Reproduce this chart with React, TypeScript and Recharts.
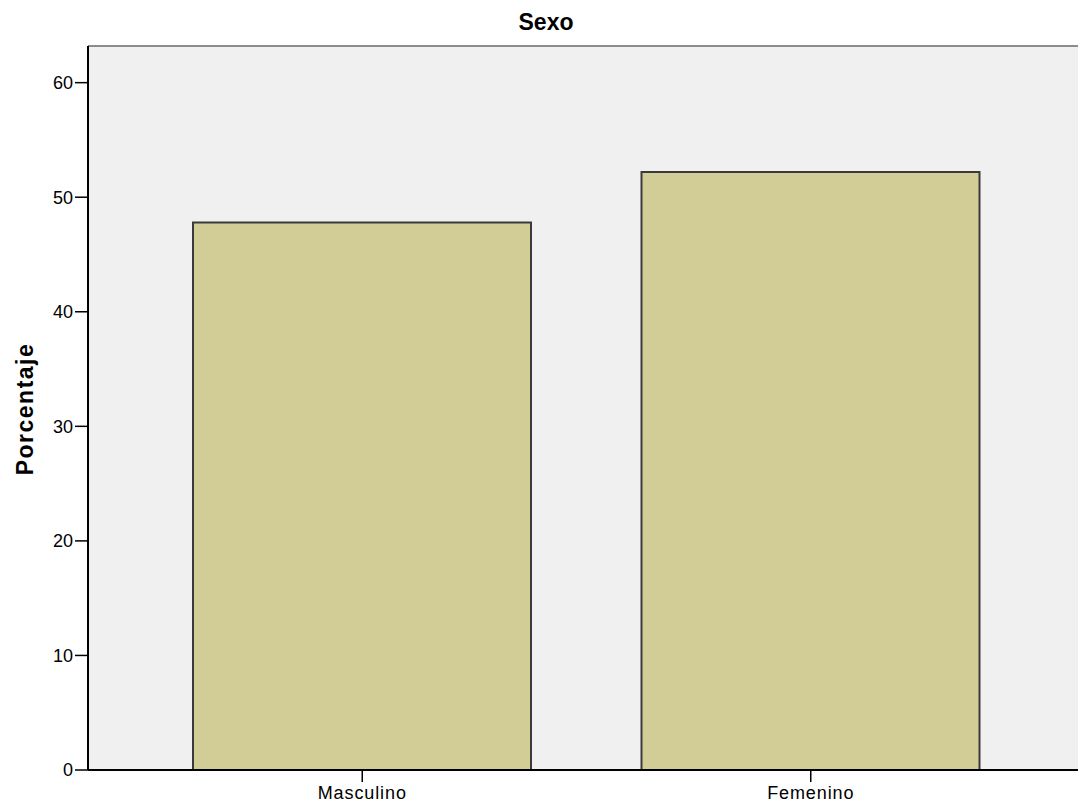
import React from "react";
import { BarChart, Bar, XAxis, YAxis, CartesianGrid, ReferenceLine } from "recharts";

const categories = ["Masculino", "Femenino"];
const percentages = [47.8, 52.2];
const yTicks = [0, 10, 20, 30, 40, 50, 60];
const yMax = 63.2;

const data = categories.map((c, i) => ({ name: c, value: percentages[i] }));

const font = "'Liberation Sans', Arial, sans-serif";

export default function App() {
  return (
    <div style={{ position: "absolute", left: 0, top: 0, width: 1078, height: 805, background: "#fff", fontFamily: font, overflow: "hidden" }}>
      <div style={{ position: "absolute", left: 0, top: 11, width: 1092, textAlign: "center", fontWeight: "bold", fontSize: 23, lineHeight: "23px", color: "#000" }}>
        Sexo
      </div>
      <div
        style={{
          position: "absolute",
          left: 25,
          top: 409,
          transform: "translate(-50%, -50%) rotate(-90deg)",
          fontWeight: "bold",
          fontSize: 23,
          letterSpacing: 1.5,
          lineHeight: "23px",
          color: "#000",
          whiteSpace: "nowrap",
        }}
      >
        Porcentaje
      </div>
      <BarChart
        width={1078}
        height={805}
        data={data}
        margin={{ top: 46, right: 0, bottom: 5, left: 0 }}
        barSize={338}
        style={{ position: "absolute", left: 0, top: 0 }}
      >
        <CartesianGrid horizontal={false} vertical={false} fill="#F0F0F0" />
        <XAxis
          dataKey="name"
          padding={{ left: 50, right: 43 }}
          axisLine={{ stroke: "#000", strokeWidth: 2 }}
          tickLine={{ stroke: "#000", strokeWidth: 1.5 }}
          tickSize={12}
          tickMargin={4}
          tick={{ fill: "#000", fontSize: 18, fontFamily: font, letterSpacing: 0.9 }}
          interval={0}
        />
        <YAxis
          width={88}
          domain={[0, yMax]}
          ticks={yTicks}
          axisLine={{ stroke: "#000", strokeWidth: 2 }}
          tickLine={{ stroke: "#000", strokeWidth: 1.5 }}
          tickSize={13}
          tickMargin={2}
          tick={{ fill: "#000", fontSize: 18, fontFamily: font }}
        />
        <ReferenceLine y={yMax} stroke="#8c8c8c" strokeWidth={2} ifOverflow="extendDomain" />
        <Bar dataKey="value" fill="#D2CD97" stroke="#3a3a3a" strokeWidth={2} isAnimationActive={false} />
      </BarChart>
    </div>
  );
}
